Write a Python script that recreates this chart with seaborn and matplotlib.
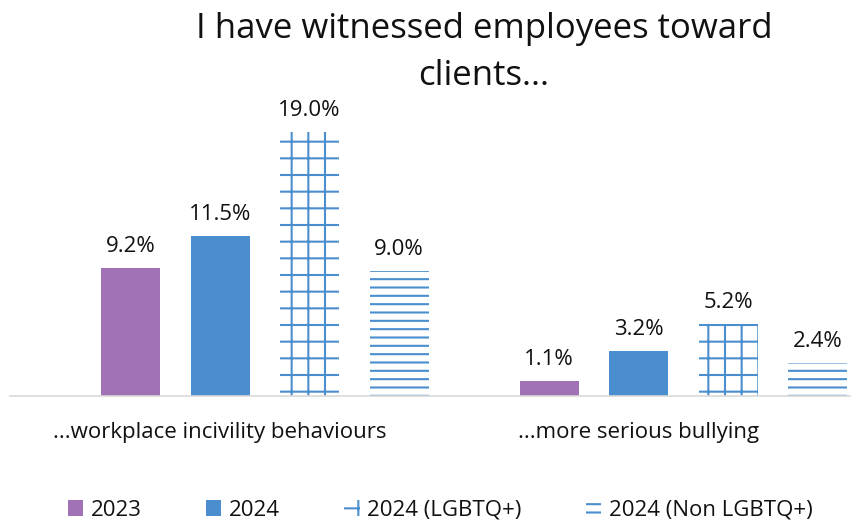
import pandas as pd
import seaborn as sns
import matplotlib.pyplot as plt
import matplotlib.transforms as mtransforms
from matplotlib.patches import Patch

categories = ["...workplace incivility behaviours", "...more serious bullying"]
series = ["2023", "2024", "2024 (LGBTQ+)", "2024 (Non LGBTQ+)"]
values_2023 = [9.2, 1.1]
values_2024 = [11.5, 3.2]
values_lgbtq = [19.0, 5.2]
values_non_lgbtq = [9.0, 2.4]

purple = "#A171B5"
blue = "#4A8ECF"
colors = [purple, blue, "white", "white"]
hatches = [None, None, "+", "--"]

rows = []
for s, vals in zip(series, [values_2023, values_2024, values_lgbtq, values_non_lgbtq]):
    for c, v in zip(categories, vals):
        rows.append({"category": c, "series": s, "value": v})
df = pd.DataFrame(rows)

sns.set_style("white")
plt.rcParams["font.family"] = ["Open Sans", "DejaVu Sans"]
plt.rcParams["hatch.linewidth"] = 1.5

fig = plt.figure(figsize=(8.57, 5.2), dpi=100)
ax = fig.add_axes([10 / 857, 124 / 520, 840 / 857, 306 / 520])

sns.barplot(data=df, x="category", y="value", hue="series", order=categories,
            hue_order=series, palette=colors, saturation=1, width=0.856, gap=0.34,
            legend=False, ax=ax)

for cont, h in zip(ax.containers, hatches):
    for bar in cont:
        if h:
            bar.set_hatch(h)
            bar.set_edgecolor(blue)
            bar.set_linewidth(0)
        else:
            bar.set_edgecolor("none")
    ax.bar_label(cont, fmt="%.1f%%", padding=8, fontsize=16, color="#111111")

ax.set_xlim(-0.609, 1.398)
ax.set_ylim(0, 22)
ax.set_xlabel("")
ax.set_ylabel("")
ax.set_yticks([])
ax.tick_params(axis="x", length=0, pad=19, labelsize=16, labelcolor="#111111")
shift = mtransforms.ScaledTranslation(-0.45, 0, fig.dpi_scale_trans)
for lbl in ax.get_xticklabels():
    lbl.set_transform(lbl.get_transform() + shift)
for side in ["top", "left", "right"]:
    ax.spines[side].set_visible(False)
ax.spines["bottom"].set_color("#D9D9D9")
ax.spines["bottom"].set_linewidth(1.2)

fig.text(484 / 857, 508 / 520, "I have witnessed employees toward\nclients...",
         ha="center", va="top", fontsize=25, color="#111111", linespacing=1.5)

handles = []
for s, col, h in zip(series, colors, hatches):
    if h:
        handles.append(Patch(facecolor="white", edgecolor=blue, hatch=h, linewidth=0, label=s))
    else:
        handles.append(Patch(facecolor=col, edgecolor="none", label=s))
fig.legend(handles=handles, loc="center", bbox_to_anchor=(440 / 857, 10 / 520),
           ncol=4, frameon=False, fontsize=16, handlelength=0.7, handleheight=0.75,
           handletextpad=0.33, columnspacing=2.9, labelcolor="#111111")

fig.savefig("out.png", dpi=100)
